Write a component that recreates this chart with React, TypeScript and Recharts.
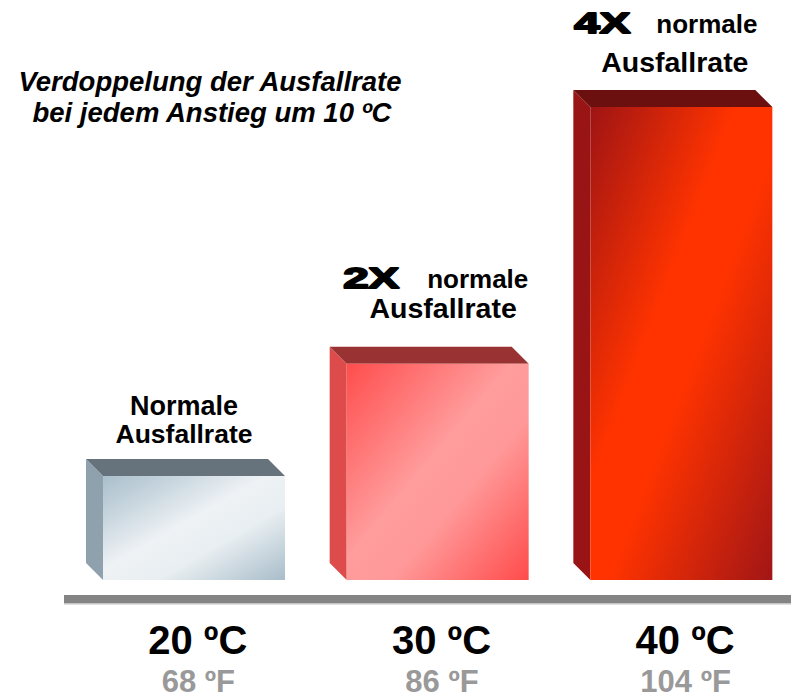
import React from 'react';
import { BarChart, Bar, XAxis, YAxis } from 'recharts';

// values (relative failure rate, 20 ºC = 1)
const categories = ['20 ºC', '30 ºC', '40 ºC'];
const fahrenheit = ['68 ºF', '86 ºF', '104 ºF'];
const failureRate = [1.0, 2.08, 4.55];
const multipliers = ['', '2X', '4X'];
const rateWord = ['Normale', 'normale', 'normale'];

const data = categories.map((c, i) => ({
    c,
    f: fahrenheit[i],
    rate: failureRate[i],
    mult: multipliers[i],
    word: rateWord[i],
}));

const FONT = '"Liberation Sans", Arial, Helvetica, sans-serif';
const DEPTH = 17;

const BOX_COLORS = [
    { top: '#66737c', side: '#8ea1ad', stops: [['0', '#a9bfcc'], ['0.2', '#c6d4dd'], ['0.45', '#eef2f5'], ['0.65', '#e8eef1'], ['1', '#a8bdca']] },
    { top: '#993333', side: '#de4b4b', stops: [['0', '#ff4d4d'], ['0.45', '#ff9c9c'], ['0.62', '#ff9999'], ['1', '#ff4b4b']] },
    { top: '#6b0f0f', side: '#991515', stops: [['0', '#9e1414'], ['0.4', '#ff3300'], ['0.55', '#ff3300'], ['1', '#a11616']] },
];

// hand placed label offsets, relative to the front top centre of each box
const LABEL_POS = [
    { l1: -61, l2: -33, dx2: -10 },
    { l1: -76, l2: -46, dx2: 5.5, multX: -94.5, wordX: -10.5 },
    { l1: -74, l2: -35, dx2: -6.5, multX: -107, wordX: -25 },
];

const Box = (props: any) => {
    const { x, y, width, height, payload } = props;
    const i = categories.indexOf(payload.c);
    const col = BOX_COLORS[i];
    const pos = LABEL_POS[i];
    const cx = x + width / 2;
    const d = DEPTH;
    return (
        <g>
            <polygon points={`${x - d},${y - d} ${x},${y} ${x},${y + height} ${x - d},${y + height - d}`} fill={col.side} />
            <polygon points={`${x - d},${y - d} ${x + width - d},${y - d} ${x + width},${y} ${x},${y}`} fill={col.top} />
            <rect x={x} y={y} width={width} height={height} fill={`url(#front${i})`} />
            {payload.mult ? (
                <>
                    <text x={cx + pos.multX} y={y + pos.l1} fontFamily={FONT} fontSize={29} fontWeight="bold" fill="#000"
                        stroke="#000" strokeWidth={1.8} strokeLinejoin="round" textLength={56} lengthAdjust="spacingAndGlyphs">
                        {payload.mult}
                    </text>
                    <text x={cx + pos.wordX} y={y + pos.l1} fontFamily={FONT} fontSize={26} fontWeight="bold" fill="#000">
                        {payload.word}
                    </text>
                    <text x={cx + pos.dx2} y={y + pos.l2} fontFamily={FONT} fontSize={28.5} fontWeight="bold" fill="#000" textAnchor="middle">
                        Ausfallrate
                    </text>
                </>
            ) : (
                <>
                    <text x={cx + pos.dx2} y={y + pos.l1} fontFamily={FONT} fontSize={27} fontWeight="bold" fill="#000" textAnchor="middle">
                        {payload.word}
                    </text>
                    <text x={cx + pos.dx2} y={y + pos.l2} fontFamily={FONT} fontSize={26.5} fontWeight="bold" fill="#000" textAnchor="middle">
                        Ausfallrate
                    </text>
                </>
            )}
        </g>
    );
};

const TempTick = (props: any) => {
    const { x, y, payload, index } = props;
    return (
        <g>
            <text x={x + 4} y={y + 74} textAnchor="middle" fontFamily={FONT} fontSize={40} fontWeight="bold" fill="#000">
                {payload.value}
            </text>
            <text x={x + 4.5} y={y + 112} textAnchor="middle" fontFamily={FONT} fontSize={31} fontWeight="bold" fill="#999999">
                {fahrenheit[index]}
            </text>
        </g>
    );
};

const App: React.FC = () => {
    return (
        <div style={{ position: 'absolute', left: 0, top: 0, width: 791, height: 698, overflow: 'hidden', background: '#fff' }}>
            <BarChart width={803} height={698} data={data} margin={{ top: 107, right: 0, bottom: 18, left: 72 }} barSize={182}>
                <defs>
                    {BOX_COLORS.map((col, i) => (
                        <linearGradient key={i} id={`front${i}`} x1="0" y1="0" x2="1" y2="1">
                            {col.stops.map(([o, c]) => (
                                <stop key={o} offset={o} stopColor={c} />
                            ))}
                        </linearGradient>
                    ))}
                </defs>
                <XAxis dataKey="c" height={100} axisLine={false} tickLine={false} tickSize={0} tickMargin={0} interval={0} tick={<TempTick />} />
                <YAxis hide domain={[0, 4.55]} />
                <Bar dataKey="rate" shape={<Box />} isAnimationActive={false} />
            </BarChart>
            <svg width={791} height={698} style={{ position: 'absolute', left: 0, top: 0, pointerEvents: 'none' }}>
                <rect x={64} y={595} width={727} height={8} fill="#848484" />
                <rect x={64} y={603} width={727} height={1.5} fill="#c4c4c4" />
                <text x={210} y={91} textAnchor="middle" fontFamily={FONT} fontSize={27.5} fontWeight="bold" fontStyle="italic" fill="#000">
                    Verdoppelung der Ausfallrate
                </text>
                <text x={212} y={122} textAnchor="middle" fontFamily={FONT} fontSize={27.5} fontWeight="bold" fontStyle="italic" fill="#000">
                    bei jedem Anstieg um 10 ºC
                </text>
            </svg>
        </div>
    );
};

export default App;
